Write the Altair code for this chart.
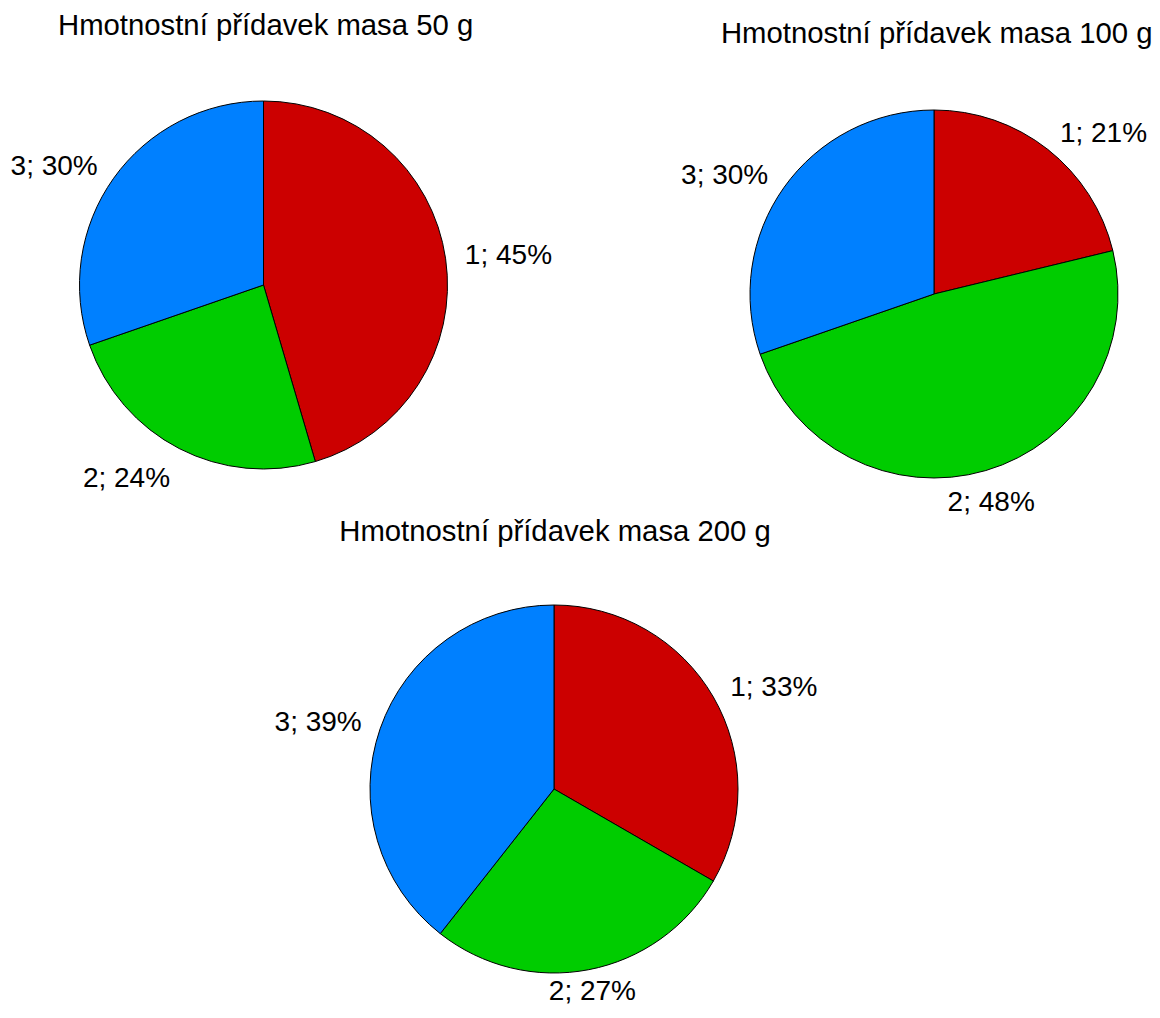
import math
import altair as alt
import pandas as pd

# ---- data ----
categories = [1, 2, 3]
titles = [
    "Hmotnostní přídavek masa 50 g",
    "Hmotnostní přídavek masa 100 g",
    "Hmotnostní přídavek masa 200 g",
]
share_50 = [45, 24, 30]
share_100 = [21, 48, 30]
share_200 = [33, 27, 39]
colors = ["#CC0000", "#00CC00", "#0080FF"]

# ---- layout (page pixels) ----
M = 8
W, H = 1144, 1002
centers = [(263.5, 285), (934, 294), (554, 789)]
title_pos = [(265.6, 35), (936.7, 43.3), (555, 541)]
R = 184
LABEL_R = 203
HW = 44
HH = 14
FS = 28
TFS = 29.3
FONT = "Liberation Sans"
MAX_LABEL_Y = M + H - 18  # keep labels inside the canvas


def label_frame(values, cy):
    total = sum(values)
    rows = []
    cum = 0
    for c, v in zip(categories, values):
        mid = (cum + v / 2) / total * 2 * math.pi
        cum += v
        s, co = math.sin(mid), math.cos(mid)
        ax, ay = LABEL_R * s, -LABEL_R * co
        ox = HW * math.copysign(1, s) if abs(s) > 0.4 else 0
        oy = -HH * math.copysign(1, co) if abs(co) > 0.85 else 0
        x, y = ax + ox, ay + oy
        y = min(y, MAX_LABEL_Y - cy)
        rows.append(dict(k=c, v=v, label=f"{c}; {v}%",
                         r=math.hypot(x, y), a=math.atan2(x, -y)))
    return pd.DataFrame(rows)


layers = []
for i, vals in enumerate([share_50, share_100, share_200]):
    cx, cy = centers[i]
    tx, ty = title_pos[i]
    df = label_frame(vals, cy)
    base = alt.Chart(df)
    arc = base.mark_arc(outerRadius=R, stroke="black", strokeWidth=1).encode(
        theta=alt.Theta("v:Q", stack=True),
        order=alt.Order("k:Q", sort="ascending"),
        color=alt.Color("k:N", scale=alt.Scale(domain=categories, range=colors), legend=None),
        x=alt.value(cx - M),
        y=alt.value(cy - M),
    )
    txt = base.mark_text(font=FONT, fontSize=FS, color="black",
                         align="center", baseline="middle").encode(
        theta=alt.Theta("a:Q", scale=None, stack=None),
        radius=alt.Radius("r:Q", scale=None),
        text="label:N",
        x=alt.value(cx - M),
        y=alt.value(cy - M),
    )
    ttl = alt.Chart(pd.DataFrame({"t": [titles[i]]})).mark_text(
        font=FONT, fontSize=TFS, color="black", align="center", baseline="alphabetic"
    ).encode(text="t:N", x=alt.value(tx - M), y=alt.value(ty - M))
    layers += [arc, txt, ttl]

chart = (
    alt.layer(*layers)
    .properties(width=W, height=H,
                autosize=alt.AutoSizeParams(type="none"), padding=0,
                background="white")
    .resolve_scale(theta="independent", radius="independent")
    .configure_view(stroke=None)
)

chart.save("out.html", embed_options={"renderer": "svg", "actions": False})
